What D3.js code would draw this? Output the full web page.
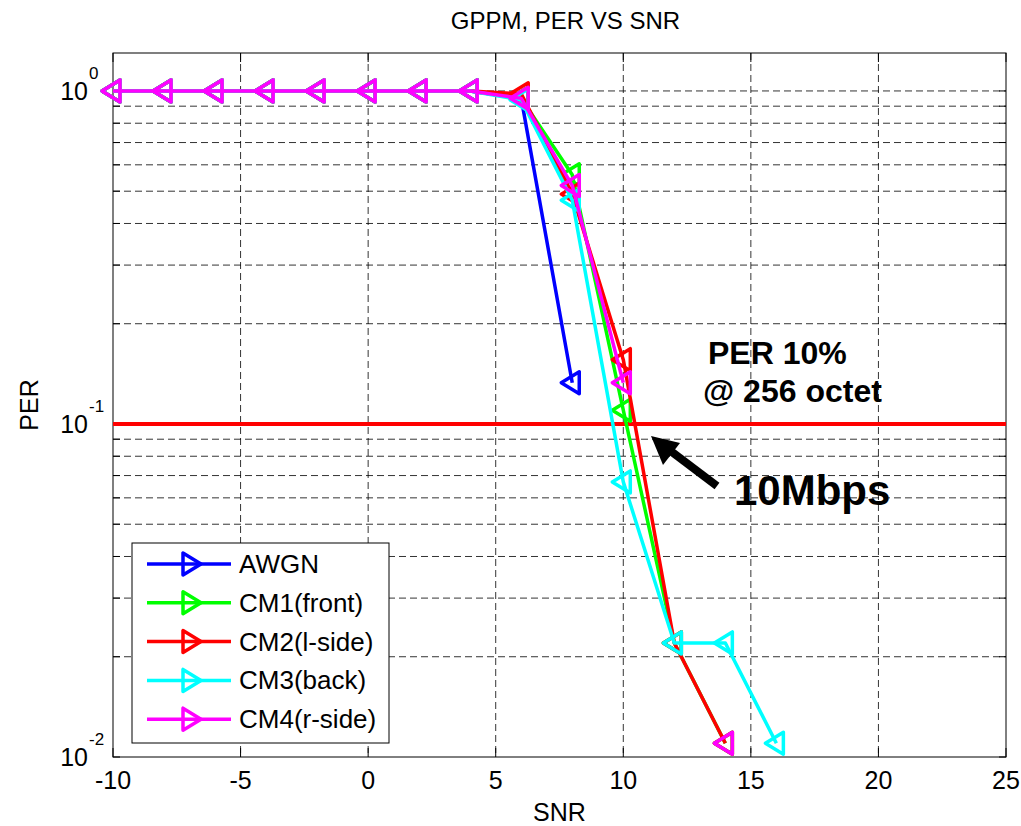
<!DOCTYPE html>
<html><head><meta charset="utf-8">
<script src="https://cdn.jsdelivr.net/npm/d3@7"></script>
<style>body{margin:0;background:#fff}svg{display:block;font-family:Arial,"Liberation Sans",sans-serif}</style>
</head><body><svg id="c" width="1021" height="826"></svg>
<script>
const snr = [-10,-8,-6,-4,-2,0,2,4,6,8,10,12,14,16];
const awgn = [1,1,1,1,1,1,1,1,0.95,0.133];
const cm1  = [1,1,1,1,1,1,1,1,0.95,0.56,0.11,0.022,0.011];
const cm2  = [1,1,1,1,1,1,1,1,0.98,0.49,0.156,0.022,0.011];
const cm3  = [1,1,1,1,1,1,1,1,0.94,0.47,0.067,0.022,0.022,0.011];
const cm4  = [1,1,1,1,1,1,1,1,0.95,0.52,0.133,null,0.011];
const seriesNames = ["AWGN","CM1(front)","CM2(l-side)","CM3(back)","CM4(r-side)"];
const seriesColors = ["#0000ff","#00ff00","#ff0000","#00ffff","#ff00ff"];
const xTicks = [-10,-5,0,5,10,15,20,25];
const yMajor = [1,0.1,0.01];
const yExp = ["0","-1","-2"];
const perLevel = 0.1;

const svg = d3.select("#c");
const L=113,R=1006,T=53,B=757;
const x = d3.scaleLinear().domain([-10,25]).range([L,R]);
const y = d3.scaleLog().domain([0.01,1.3]).range([B,T]);

// grid
const g = svg.append("g");
const minor = [];
[0.01,0.1].forEach(d=>{for(let k=2;k<=9;k++) minor.push(d*k);});
g.selectAll(".ym").data(minor.concat([1])).join("line")
  .attr("x1",L).attr("x2",R).attr("y1",d=>y(d)).attr("y2",d=>y(d))
  .attr("stroke","#000").attr("stroke-opacity",0.8).attr("stroke-width",1).attr("stroke-dasharray","7,4");
g.selectAll(".xg").data(xTicks.slice(1,-1)).join("line")
  .attr("x1",d=>x(d)).attr("x2",d=>x(d)).attr("y1",T).attr("y2",B)
  .attr("stroke","#000").attr("stroke-opacity",0.8).attr("stroke-width",1).attr("stroke-dasharray","7,4");

// axes box & ticks
const ax = svg.append("g");
ax.append("rect").attr("x",L).attr("y",T).attr("width",R-L).attr("height",B-T).attr("fill","none").attr("stroke","#000").attr("stroke-width",1);
ax.selectAll(".xt").data(xTicks).join("g").each(function(d){
  const s=d3.select(this);
  s.append("line").attr("x1",x(d)).attr("x2",x(d)).attr("y1",B).attr("y2",B-9).attr("stroke","#000");
  s.append("line").attr("x1",x(d)).attr("x2",x(d)).attr("y1",T).attr("y2",T+9).attr("stroke","#000");
  s.append("text").attr("x",x(d)).attr("y",789).attr("text-anchor","middle").attr("font-size",25).text(d);
});
ax.selectAll(".yt").data(minor.concat(yMajor)).join("g").each(function(d){
  const s=d3.select(this);
  s.append("line").attr("x1",L).attr("x2",L+7).attr("y1",y(d)).attr("y2",y(d)).attr("stroke","#000");
  s.append("line").attr("x1",R).attr("x2",R-7).attr("y1",y(d)).attr("y2",y(d)).attr("stroke","#000");
});
ax.selectAll(".yl").data(yMajor).join("text")
  .attr("x",88).attr("y",d=>y(d)+9).attr("text-anchor","end").attr("font-size",25).text("10");
ax.selectAll(".ye").data(yMajor).join("text")
  .attr("x",89).attr("y",d=>y(d)-12).attr("text-anchor","start").attr("font-size",17).text((d,i)=>yExp[i]);

// labels
svg.append("text").attr("x",(L+R)/2+6).attr("y",29).attr("text-anchor","middle").attr("font-size",24).text("GPPM, PER VS SNR");
svg.append("text").attr("x",(L+R)/2).attr("y",821).attr("text-anchor","middle").attr("font-size",25).text("SNR");
svg.append("text").attr("transform",`translate(38,${(T+B)/2}) rotate(-90)`).attr("text-anchor","middle").attr("font-size",25).text("PER");

// PER 10% line
svg.append("line").attr("x1",L).attr("x2",R).attr("y1",y(perLevel)).attr("y2",y(perLevel)).attr("stroke","#ff0000").attr("stroke-width",4);

// series
const allSeries=[awgn,cm1,cm2,cm3,cm4];
const line = d3.line().defined(d=>d.v!=null).x(d=>x(d.s)).y(d=>y(d.v));
const triLeft = (cx,cy)=>`M${cx-11},${cy} L${cx+7},${cy-11} L${cx+7},${cy+11} Z`;
const triRight = (cx,cy)=>`M${cx+11},${cy} L${cx-7},${cy-11} L${cx-7},${cy+11} Z`;
allSeries.forEach((vals,i)=>{
  const pts = vals.map((v,j)=>({s:snr[j],v}));
  const gs = svg.append("g");
  gs.append("path").attr("d",line(pts)).attr("fill","none").attr("stroke",seriesColors[i]).attr("stroke-width",3.5).attr("stroke-linejoin","round");
  gs.selectAll("path.m").data(pts.filter(p=>p.v!=null)).join("path").attr("class","m")
    .attr("d",p=>triLeft(x(p.s),y(p.v))).attr("fill","none").attr("stroke",seriesColors[i]).attr("stroke-width",3.5).attr("stroke-linejoin","round");
});

// annotations
svg.append("text").attr("x",708).attr("y",364).attr("font-size",32).attr("font-weight","bold").text("PER 10%");
svg.append("text").attr("x",703).attr("y",402).attr("font-size",32).attr("font-weight","bold").text("@ 256 octet");
svg.append("text").attr("x",734).attr("y",505).attr("font-size",42).attr("font-weight","bold").text("10Mbps");
svg.append("line").attr("x1",717).attr("y1",486).attr("x2",668).attr("y2",449).attr("stroke","#000").attr("stroke-width",8);
svg.append("path").attr("d","M651,436 L680,443 L663,465 Z").attr("fill","#000");

// legend
const lg = svg.append("g");
lg.append("rect").attr("x",132).attr("y",543).attr("width",257).attr("height",200).attr("fill","#fff").attr("stroke","#000").attr("stroke-width",1);
seriesNames.forEach((n,i)=>{
  const yy = 564 + i*38.8;
  lg.append("line").attr("x1",147).attr("x2",231).attr("y1",yy).attr("y2",yy).attr("stroke",seriesColors[i]).attr("stroke-width",3.5);
  lg.append("path").attr("d",triRight(190,yy)).attr("fill","none").attr("stroke",seriesColors[i]).attr("stroke-width",3.5).attr("stroke-linejoin","round");
  lg.append("text").attr("x",239).attr("y",yy+9).attr("font-size",26).text(n);
});
</script></body></html>
